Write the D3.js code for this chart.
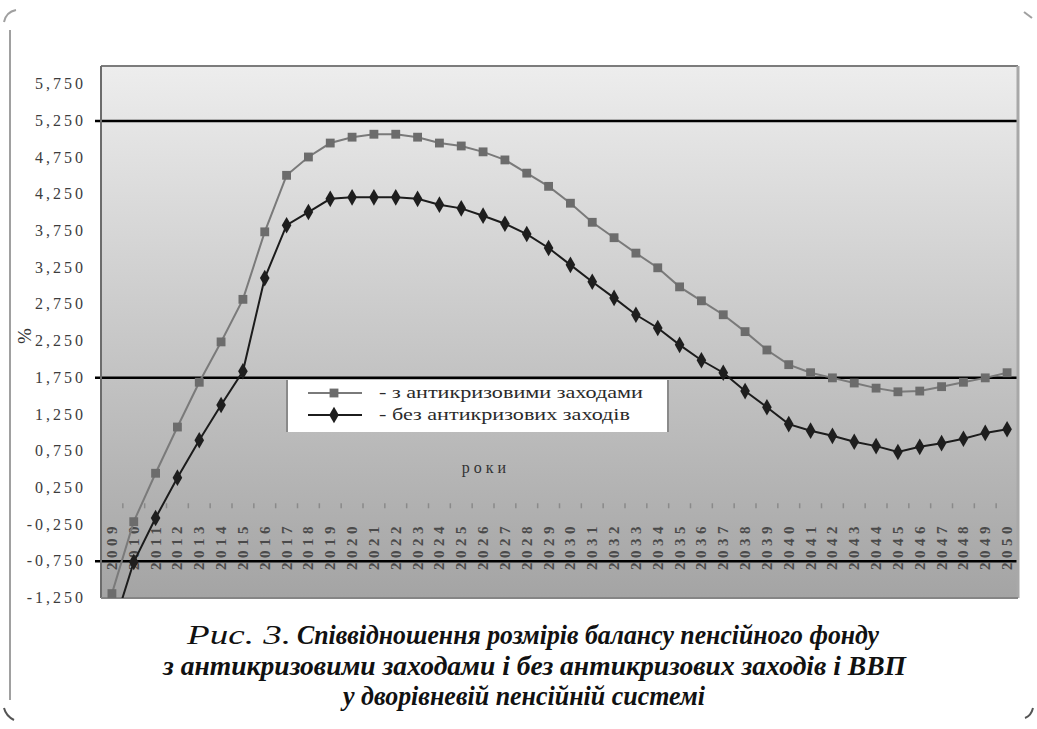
<!DOCTYPE html>
<html><head><meta charset="utf-8">
<script src="https://cdn.jsdelivr.net/npm/d3@7"></script>
<style>
html,body{margin:0;padding:0;background:#fff;}
svg{display:block;}
svg text{font-family:"Liberation Serif","DejaVu Serif",serif;}
</style>
</head><body>
<svg id="chart" width="1037" height="729"></svg>
<script>
// ---- data ----
const years = [2009,2010,2011,2012,2013,2014,2015,2016,2017,2018,2019,2020,2021,2022,2023,2024,2025,2026,2027,2028,2029,2030,2031,2032,2033,2034,2035,2036,2037,2038,2039,2040,2041,2042,2043,2044,2045,2046,2047,2048,2049,2050];
const withMeasures = [-1.19,-0.21,0.45,1.08,1.69,2.24,2.82,3.74,4.51,4.76,4.95,5.03,5.07,5.07,5.03,4.95,4.91,4.83,4.72,4.54,4.36,4.13,3.87,3.66,3.45,3.25,2.99,2.80,2.61,2.38,2.13,1.93,1.82,1.75,1.68,1.61,1.56,1.57,1.63,1.69,1.75,1.82];
const withoutMeasures = [-1.71,-0.76,-0.16,0.39,0.90,1.38,1.84,3.11,3.83,4.01,4.19,4.21,4.21,4.21,4.19,4.11,4.06,3.96,3.85,3.71,3.52,3.29,3.06,2.84,2.61,2.43,2.20,1.99,1.82,1.57,1.35,1.12,1.03,0.96,0.88,0.82,0.74,0.81,0.86,0.92,1.00,1.05];
const yTicks = [-1.25,-0.75,-0.25,0.25,0.75,1.25,1.75,2.25,2.75,3.25,3.75,4.25,4.75,5.25,5.75];
const gridValues = [5.25,1.75,-0.75];
const legendLabels = ["- з антикризовими заходами","- без антикризових заходів"];
const xTitle = "роки";
const yTitle = "%";
const captionLines = [
  ["Рис. 3.", "Співвідношення розмірів балансу пенсійного фонду"],
  ["", "з антикризовими заходами і без антикризових заходів і ВВП"],
  ["", "у дворівневій пенсійній системі"]
];

// ---- layout ----
const svg = d3.select("#chart");
const plot = {left:101, right:1018, top:66, bottom:598};
const x = d3.scaleBand().domain(years).range([plot.left, plot.right]).padding(0);
const cx = d => x(d) + x.bandwidth()/2;
const y = d3.scaleLinear().domain([-1.25, 6.0]).range([plot.bottom, plot.top]);
const fmt = v => d3.format(".3f")(v).replace(".", ",").replace("−","-");

const defs = svg.append("defs");
const grad = defs.append("linearGradient").attr("id","bg").attr("x1",0).attr("y1",0).attr("x2",0).attr("y2",1);
grad.append("stop").attr("offset","0%").attr("stop-color","#ededed");
grad.append("stop").attr("offset","100%").attr("stop-color","#a4a4a4");
defs.append("clipPath").attr("id","clip").append("rect")
  .attr("x",plot.left).attr("y",plot.top).attr("width",plot.right-plot.left).attr("height",plot.bottom-plot.top);

// outer frame marks
const frame = svg.append("g").attr("fill","none").attr("stroke","#a0a0a0").attr("stroke-width",2);
frame.append("path").attr("d","M10,30 L10,700");
frame.append("path").attr("d","M4,22 Q6,12 16,10");
frame.append("path").attr("d","M1024,12 L1032,18");
frame.append("path").attr("d","M4,708 Q6,716 14,720").attr("stroke","#555");
frame.append("path").attr("d","M1025,718 Q1031,716 1033,708").attr("stroke","#555");

// plot background
svg.append("rect").attr("x",plot.left).attr("y",plot.top)
  .attr("width",plot.right-plot.left).attr("height",plot.bottom-plot.top)
  .attr("fill","url(#bg)");

// x-axis ticks (at y=0, between categories)
const xt = svg.append("g");
years.forEach((yr,i)=>{
  if(i===0) return;
  xt.append("line").attr("x1",x(yr)).attr("x2",x(yr))
    .attr("y1",y(0)-3).attr("y2",y(0)+2).attr("stroke","#8a8a8a").attr("stroke-width",1.5);
});
// x labels (rotated years)
const xl = svg.append("g").attr("font-size",15).attr("font-weight","bold")
  .attr("fill","#4a4a4a").attr("letter-spacing","4.5px");
years.forEach(yr=>{
  xl.append("text").attr("transform",`translate(${cx(yr)+5},570) rotate(-90)`)
    .attr("text-anchor","start").text(yr);
});

// black gridlines
svg.append("g").selectAll("line").data(gridValues).join("line")
  .attr("x1",plot.left-6).attr("x2",plot.right).attr("y1",d=>y(d)).attr("y2",d=>y(d))
  .attr("stroke","#000").attr("stroke-width",2.5);

// plot border
svg.append("line").attr("x1",plot.left).attr("x2",plot.right).attr("y1",plot.top).attr("y2",plot.top).attr("stroke","#7c7c7c").attr("stroke-width",2);
svg.append("line").attr("x1",plot.left).attr("x2",plot.left).attr("y1",plot.top).attr("y2",plot.bottom).attr("stroke","#6c6c6c").attr("stroke-width",2);
svg.append("line").attr("x1",plot.right).attr("x2",plot.right).attr("y1",plot.top).attr("y2",plot.bottom).attr("stroke","#a8a8a8").attr("stroke-width",3);
svg.append("line").attr("x1",plot.left).attr("x2",plot.right).attr("y1",plot.bottom).attr("y2",plot.bottom).attr("stroke","#858585").attr("stroke-width",2);

// y tick labels
const yl = svg.append("g").attr("font-size",16)
  .attr("fill","#3c3c3c").attr("letter-spacing","3px").attr("text-anchor","end");
yTicks.forEach(v=>{
  yl.append("text").attr("x",86).attr("y",y(v)+5).text(fmt(v));
});

// y title
svg.append("text").attr("transform","translate(31,336) rotate(-90)")
  .attr("font-size",19).attr("fill","#333")
  .attr("text-anchor","middle").text(yTitle);

// legend
const lg = svg.append("g");
lg.append("rect").attr("x",287).attr("y",380).attr("width",381).attr("height",52).attr("fill","#fff");
lg.append("line").attr("x1",287).attr("x2",287).attr("y1",380).attr("y2",432).attr("stroke","#8a8a8a").attr("stroke-width",2);
lg.append("line").attr("x1",668).attr("x2",668).attr("y1",380).attr("y2",432).attr("stroke","#8a8a8a").attr("stroke-width",2);

// x title
svg.append("text").attr("x",486).attr("y",473).attr("text-anchor","middle")
  .attr("font-size",16).attr("fill","#333")
  .attr("letter-spacing","4px").text(xTitle);

// series
const line = d3.line().x((d,i)=>cx(years[i])).y(d=>y(d));
const series = [
  {data:withMeasures, color:"#7a7a7a", mcolor:"#6c6c6c", sym:d3.symbolSquare, size:78},
  {data:withoutMeasures, color:"#1c1c1c", mcolor:"#1e1e1e", sym:d3.symbolDiamond, size:80}
];
const sg = svg.append("g").attr("clip-path","url(#clip)");
series.forEach(s=>{
  sg.append("path").attr("d",line(s.data)).attr("fill","none").attr("stroke",s.color).attr("stroke-width",2);
  sg.selectAll(null).data(s.data).join("path")
    .attr("transform",(d,i)=>`translate(${cx(years[i])},${y(d)})`)
    .attr("d",d3.symbol().type(s.sym).size(s.size)).attr("fill",s.mcolor);
});

// legend entries
const legendY = [393, 415];
series.forEach((s,i)=>{
  lg.append("line").attr("x1",308).attr("x2",362).attr("y1",legendY[i]).attr("y2",legendY[i]).attr("stroke",s.color).attr("stroke-width",2);
  lg.append("path").attr("transform",`translate(334,${legendY[i]})`)
    .attr("d",d3.symbol().type(s.sym).size(s.size)).attr("fill",s.mcolor);
  lg.append("text").attr("x",379).attr("y",legendY[i]+5)
    .attr("font-size",17).attr("fill","#2a2a2a")
    .attr("textLength", i===0?264:251).attr("lengthAdjust","spacingAndGlyphs")
    .text(legendLabels[i]);
});

// caption
const cap = svg.append("g").attr("font-size",28)
  .attr("font-style","italic").attr("fill","#111");
cap.append("text").attr("x",187).attr("y",644).attr("textLength",104).attr("lengthAdjust","spacingAndGlyphs")
  .text(captionLines[0][0]);
cap.append("text").attr("x",297).attr("y",644).attr("font-weight","bold")
  .attr("textLength",582).attr("lengthAdjust","spacingAndGlyphs").text(captionLines[0][1]);
cap.append("text").attr("x",163).attr("y",675).attr("font-weight","bold")
  .attr("textLength",743).attr("lengthAdjust","spacingAndGlyphs").text(captionLines[1][1]);
cap.append("text").attr("x",343).attr("y",705).attr("font-weight","bold")
  .attr("textLength",362).attr("lengthAdjust","spacingAndGlyphs").text(captionLines[2][1]);
</script>
</body></html>
